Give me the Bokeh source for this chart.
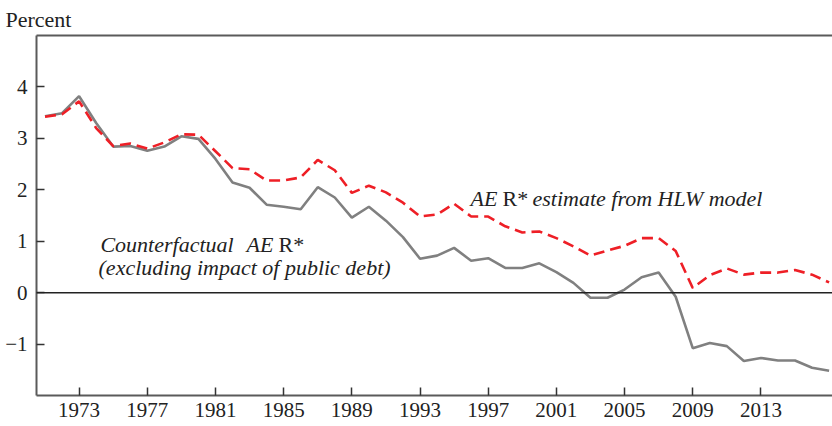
from bokeh.plotting import figure
from bokeh.models import Range1d, FixedTicker, LinearAxis, Span, Label
from bokeh.embed import file_html
from bokeh.resources import INLINE

years = list(range(1971, 2018))
hlw_rstar = [3.42, 3.47, 3.72, 3.20, 2.85, 2.90, 2.80, 2.92, 3.08, 3.07,
             2.75, 2.42, 2.40, 2.18, 2.18, 2.24, 2.58, 2.38, 1.94, 2.08,
             1.95, 1.75, 1.48, 1.52, 1.73, 1.48, 1.48, 1.29, 1.17, 1.19,
             1.06, 0.90, 0.72, 0.82, 0.91, 1.06, 1.06, 0.81, 0.09, 0.34,
             0.47, 0.35, 0.39, 0.39, 0.44, 0.35, 0.20]
counterfactual = [3.43, 3.49, 3.82, 3.30, 2.84, 2.85, 2.76, 2.84, 3.04, 2.99,
                  2.60, 2.14, 2.04, 1.71, 1.67, 1.62, 2.05, 1.85, 1.46, 1.67,
                  1.40, 1.08, 0.66, 0.72, 0.87, 0.62, 0.67, 0.48, 0.48, 0.57,
                  0.40, 0.19, -0.10, -0.10, 0.06, 0.30, 0.39, -0.08, -1.08, -0.98,
                  -1.04, -1.33, -1.27, -1.32, -1.32, -1.46, -1.52]
x_ticks = [1973, 1977, 1981, 1985, 1989, 1993, 1997, 2001, 2005, 2009, 2013]
y_ticks = [-1, 0, 1, 2, 3, 4]

SERIF = "Liberation Serif"
AX = "#5a5a5a"

p = figure(width=832, height=426, output_backend="svg", toolbar_location=None,
           x_range=Range1d(1970.5, 2017.2), y_range=Range1d(-2, 5),
           min_border_left=36, min_border_right=0, min_border_top=0, min_border_bottom=31,
           title="Percent")
p.outline_line_color = None
p.grid.visible = False
p.background_fill_color = "white"
p.border_fill_color = "white"

p.title.text_font = SERIF
p.title.text_font_size = "22px"
p.title.text_font_style = "normal"
p.title.text_color = "#222222"
p.title.align = "left"
p.title.offset = -31
p.title.standoff = 8

for ax in (p.xaxis[0], p.yaxis[0]):
    ax.axis_line_color = AX
    ax.axis_line_width = 2
    ax.major_tick_line_color = "#333333"
    ax.major_tick_line_width = 1.5
    ax.major_tick_in = 8
    ax.major_tick_out = 0
    ax.minor_tick_line_color = None
    ax.major_label_text_font = SERIF
    ax.major_label_text_font_size = "21px"
    ax.major_label_text_color = "#222222"

p.xaxis[0].ticker = FixedTicker(ticks=x_ticks)
p.yaxis[0].ticker = FixedTicker(ticks=y_ticks)
p.xaxis[0].major_label_standoff = 7
p.yaxis[0].major_label_standoff = 9
p.yaxis[0].major_label_overrides = {-1: "\u22121"}

top = LinearAxis(axis_line_color=AX, axis_line_width=2, major_tick_line_color=None,
                 minor_tick_line_color=None, major_label_text_font_size="0px",
                 major_label_standoff=0, major_tick_out=0, major_tick_in=0,
                 ticker=FixedTicker(ticks=[]))
p.add_layout(top, "above")

p.add_layout(Span(location=0, dimension="width", line_color="#222222", line_width=1.5))

p.line(years, counterfactual, line_color="#808080", line_width=2.6)
p.line(years, hlw_rstar, line_color="#ee1f26", line_width=2.6, line_dash="11 6")

def lab(x, y, t, style="italic"):
    p.add_layout(Label(x=x, y=y, text=t, text_font=SERIF, text_font_size="22px",
                       text_font_style=style, text_color="#222222",
                       text_baseline="alphabetic", text_align="left"))

lab(1995.96, 1.84, "AE")
lab(1997.84, 1.84, "R*", "normal")
lab(1999.60, 1.84, "estimate from HLW model")
lab(1974.25, 0.94, "Counterfactual")
lab(1982.82, 0.94, "AE")
lab(1984.70, 0.94, "R*", "normal")
lab(1974.14, 0.49, "(excluding impact of public debt)")

open("out.html", "w").write(file_html(p, INLINE))
